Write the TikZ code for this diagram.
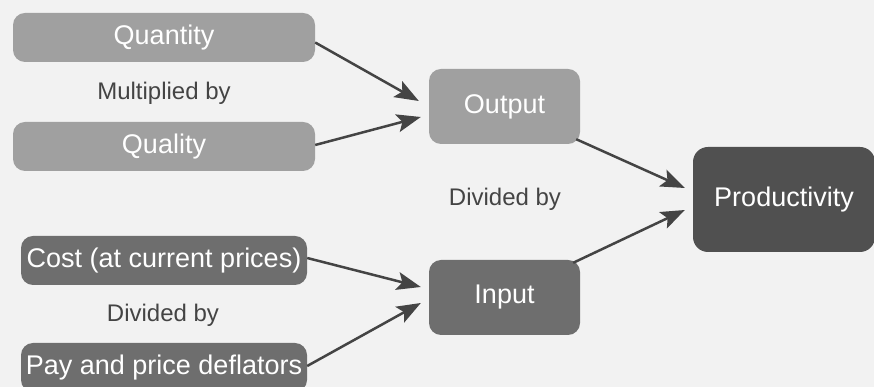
\documentclass[tikz,border=0pt]{standalone}
\usepackage{fontspec}
\setmainfont{Liberation Sans}
\usetikzlibrary{arrows.meta}

\definecolor{bg}{HTML}{F2F2F2}
\definecolor{light}{HTML}{A0A0A0}
\definecolor{mid}{HTML}{6E6E6E}
\definecolor{dark}{HTML}{505050}
\definecolor{ink}{HTML}{444444}

\begin{document}
\begin{tikzpicture}[x=1pt,y=1pt,
  box/.style={rounded corners=12pt, text=white, inner sep=0pt,
    font=\fontsize{27}{31}\selectfont, minimum height=49pt},
  lbl/.style={text=ink, font=\fontsize{24}{28}\selectfont},
  flow/.style={draw=ink, line width=2.5pt,
    -{Stealth[length=24pt,width=18pt,inset=5pt]}}]
\fill [bg] (0,0) rectangle (874,387);
\useasboundingbox (0,0) rectangle (874,387);
% output side
\node [box, fill=light, minimum width=302pt] (quant) at (164,349.5) {Quantity};
\node [lbl] (mult) at (164,294) {Multiplied by};
\node [box, fill=light, minimum width=302pt] (qual) at (164,240.5) {Quality};
\node [box, fill=light, minimum width=151pt, minimum height=75pt] (out) at (504.5,280.5) {Output};
% input side
\node [box, fill=mid, minimum width=286pt] (cost) at (164,126.5) {Cost (at current prices)};
\node [lbl] (divl) at (163,72) {Divided by};
\node [box, fill=mid, minimum width=286pt] (pay) at (164,19.5) {Pay and price deflators};
\node [box, fill=mid, minimum width=151pt, minimum height=75pt] (in) at (504.5,89.5) {Input};
\node [lbl] (divm) at (505,188) {Divided by};
\node [box, fill=dark, rounded corners=15pt, minimum width=182pt, minimum height=105pt] (prod) at (784,187.5) {Productivity};
\draw [flow] ([yshift=-5pt]quant.east) -- ([xshift=-10pt,yshift=5.5pt]out.west);
\draw [flow] ([yshift=1.5pt]qual.east) -- ([xshift=-8pt,yshift=-10.5pt]out.west);
\draw [flow] ([xshift=-4pt,yshift=5pt]out.south east) -- ([xshift=-8pt,yshift=11.5pt]prod.west);
\draw [flow] ([xshift=-7pt,yshift=-3pt]in.north east) -- ([xshift=-8pt,yshift=-10.5pt]prod.west);
\draw [flow] ([yshift=2.5pt]cost.east) -- ([xshift=-8pt,yshift=10.5pt]in.west);
\draw [flow] ([yshift=1.5pt]pay.east) -- ([xshift=-8pt,yshift=-5.5pt]in.west);
\end{tikzpicture}
\end{document}
